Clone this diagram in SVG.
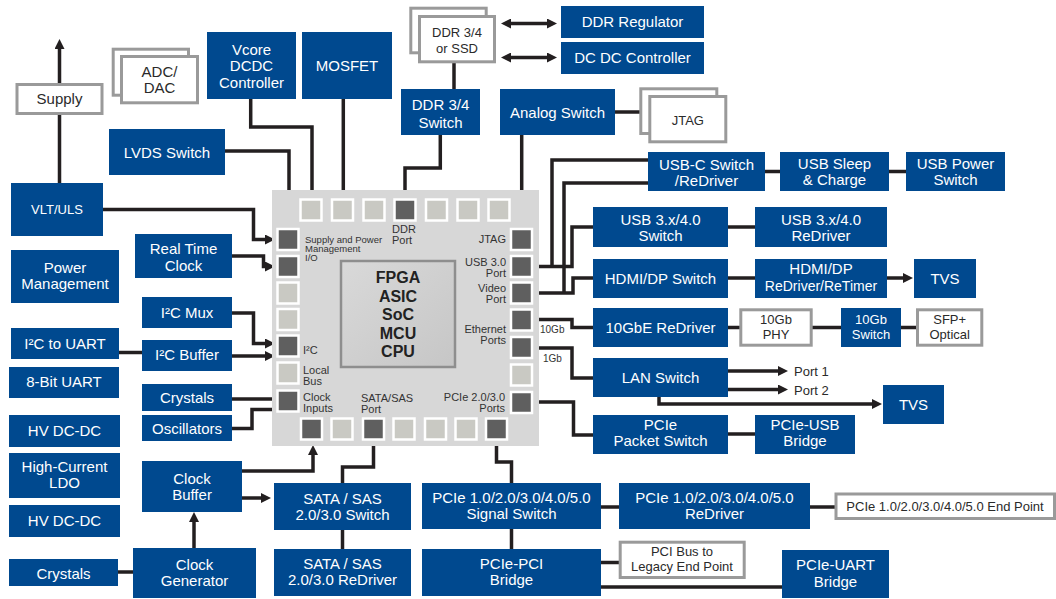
<svg xmlns="http://www.w3.org/2000/svg" width="1056" height="599" viewBox="0 0 1056 599">
<defs>
<style>
.b{fill:#00498f}
.w{fill:#fff;stroke:#9a9a9a;stroke-width:3}
.t{font-family:"Liberation Sans",Arial,sans-serif;font-size:15px;fill:#fff;text-anchor:middle}
.s{font-size:13px}
.k{fill:#2a2a2a}
.c{fill:none;stroke:#231f20;stroke-width:3.5}
.a{fill:none;stroke:#231f20;stroke-width:3.5;marker-end:url(#ah)}
.a2{fill:none;stroke:#231f20;stroke-width:3.5;marker-end:url(#ah);marker-start:url(#ah)}
.pl{fill:#c9c9c3;stroke:#fff;stroke-width:2.5}
.pd{fill:#5f5f5f;stroke:#fff;stroke-width:2.5}
.cl{font-family:"Liberation Sans",Arial,sans-serif;font-size:11px;fill:#333}
.e{text-anchor:end}
.big{font-family:"Liberation Sans",Arial,sans-serif;font-size:16px;font-weight:bold;fill:#222;text-anchor:middle}
</style>
<marker id="ah" viewBox="0 0 10 10" refX="3" refY="5" markerWidth="10" markerHeight="10" markerUnits="userSpaceOnUse" orient="auto-start-reverse">
<path d="M0,0L10,5L0,10z" fill="#231f20"/>
</marker>
<linearGradient id="cg" x1="0" y1="0" x2="1" y2="1">
<stop offset="0" stop-color="#d9d9d9"/>
<stop offset="1" stop-color="#c6c6c6"/>
</linearGradient>
</defs>

<g id="connectors">
<path class="c" d="M250.7,99V127H312V198"/>
<path class="c" d="M343.3,99V198"/>
<path class="c" d="M440.3,135V168H405V198"/>
<path class="c" d="M454,63V89"/>
<path class="c" d="M521.7,135V228"/>
<path class="c" d="M615,112H649"/>
<path class="c" d="M533,266.5H572V227H593"/>
<path class="c" d="M552,266.5V160H648"/>
<path class="c" d="M533,293H573V278H593"/>
<path class="c" d="M564,293V183H648"/>
<path class="c" d="M765,171.5H780M889,171.5H906"/>
<path class="c" d="M728,227H755"/>
<path class="c" d="M728,278H755"/>
<path class="c" d="M533,319.5H572V327.5H593"/>
<path class="c" d="M728,327.5H741M812,327.5H841M901,327.5H917"/>
<path class="c" d="M533,348H572V378H593"/>
<path class="c" d="M533,402H573.5V435H593"/>
<path class="c" d="M728,434H755"/>
<path class="c" d="M496.5,440V462H511.5V483"/>
<path class="c" d="M601,507H619M810,507H836"/>
<path class="c" d="M511.5,529V549"/>
<path class="c" d="M601,562.5H620M601,587H782"/>
<path class="c" d="M373.5,440V467H342.5V483"/>
<path class="c" d="M342.5,530V549"/>
<path class="c" d="M232,399H277"/>
<path class="c" d="M232,428.5H252V409.5H277"/>
<path class="c" d="M118,572H133"/>
<path class="c" d="M119,352.5H142"/>
<path class="a" d="M59.5,183V46"/>
<path class="a" d="M225,151H289V218"/>
<path class="a" d="M103,209.5H253.5V239.5H268"/>
<path class="a" d="M232,256H263.5V266.5H268"/>
<path class="a" d="M232,313H253.5V343.5H268"/>
<path class="a" d="M232,356H268"/>
<path class="a" d="M242,471H313V452"/>
<path class="a" d="M242,498H264"/>
<path class="a" d="M194,548V519"/>
<path class="a" d="M887,278H906"/>
<path class="a" d="M728,371H781"/>
<path class="a" d="M728,389.5H781"/>
<path class="a" d="M659,397V404H875"/>
<path class="a2" d="M508,23.5H550"/>
<path class="a2" d="M508,57.5H550"/>
</g>

<g id="chip">
<rect x="272" y="190" width="267" height="256" fill="#d7d7d7"/>
<rect x="341" y="261" width="114" height="106" fill="url(#cg)" stroke="#8e8e8e" stroke-width="2.5"/>
<text class="big" x="398" y="283">FPGA</text>
<text class="big" x="398" y="301.5">ASIC</text>
<text class="big" x="398" y="320">SoC</text>
<text class="big" x="398" y="338.5">MCU</text>
<text class="big" x="398" y="357">CPU</text>
<g>
<rect class="pl" x="300.5" y="199.5" width="21" height="21"/>
<rect class="pl" x="332" y="199.5" width="21" height="21"/>
<rect class="pl" x="363.5" y="199.5" width="21" height="21"/>
<rect class="pd" x="394.5" y="199.5" width="21" height="21"/>
<rect class="pl" x="426" y="199.5" width="21" height="21"/>
<rect class="pl" x="457.5" y="199.5" width="21" height="21"/>
<rect class="pl" x="488.5" y="199.5" width="21" height="21"/>
<rect class="pd" x="277.5" y="229" width="21" height="21"/>
<rect class="pd" x="277.5" y="256" width="21" height="21"/>
<rect class="pl" x="277.5" y="282.5" width="21" height="21"/>
<rect class="pl" x="277.5" y="309" width="21" height="21"/>
<rect class="pd" x="277.5" y="335.5" width="21" height="21"/>
<rect class="pl" x="277.5" y="362.5" width="21" height="21"/>
<rect class="pd" x="277.5" y="390.5" width="21" height="21"/>
<rect class="pd" x="511" y="229" width="21" height="21"/>
<rect class="pd" x="511" y="256" width="21" height="21"/>
<rect class="pd" x="511" y="282.5" width="21" height="21"/>
<rect class="pd" x="511" y="309.5" width="21" height="21"/>
<rect class="pd" x="511" y="337" width="21" height="21"/>
<rect class="pl" x="511" y="364.5" width="21" height="21"/>
<rect class="pd" x="511" y="392" width="21" height="21"/>
<rect class="pd" x="301" y="418.5" width="21" height="21"/>
<rect class="pl" x="331.5" y="418.5" width="21" height="21"/>
<rect class="pd" x="363" y="418.5" width="21" height="21"/>
<rect class="pl" x="393.5" y="418.5" width="21" height="21"/>
<rect class="pl" x="425" y="418.5" width="21" height="21"/>
<rect class="pl" x="455.5" y="418.5" width="21" height="21"/>
<rect class="pd" x="486" y="418.5" width="21" height="21"/>
</g>
<text class="cl" x="305" y="243" style="font-size:9.5px">Supply and Power</text>
<text class="cl" x="305" y="252" style="font-size:9.5px">Management</text>
<text class="cl" x="305" y="261" style="font-size:9.5px">I/O</text>
<text class="cl" x="392" y="233">DDR</text>
<text class="cl" x="392" y="243.5">Port</text>
<text class="cl e" x="506" y="243">JTAG</text>
<text class="cl e" x="506" y="265.5">USB 3.0</text>
<text class="cl e" x="506" y="277">Port</text>
<text class="cl e" x="506" y="292">Video</text>
<text class="cl e" x="506" y="303">Port</text>
<text class="cl e" x="506" y="333">Ethernet</text>
<text class="cl e" x="506" y="344">Ports</text>
<text class="cl" x="303" y="353.5">I²C</text>
<text class="cl" x="303" y="373.5">Local</text>
<text class="cl" x="303" y="384.5">Bus</text>
<text class="cl" x="303" y="401">Clock</text>
<text class="cl" x="303" y="412">Inputs</text>
<text class="cl" x="361" y="402">SATA/SAS</text>
<text class="cl" x="361" y="412.5">Port</text>
<text class="cl e" x="505" y="401">PCIe 2.0/3.0</text>
<text class="cl e" x="505" y="412">Ports</text>
</g>

<g id="line-labels">
<text class="cl" x="540" y="333" style="font-size:10px">10Gb</text>
<text class="cl" x="543" y="362" style="font-size:10px">1Gb</text>
<text class="t s k" x="794" y="376" style="text-anchor:start">Port 1</text>
<text class="t s k" x="794" y="394.5" style="text-anchor:start">Port 2</text>
</g>

<g id="supply"><rect class="w" x="17" y="84.5" width="85" height="29"/><text class="t k" x="59.5" y="104">Supply</text></g>
<g id="adc-dac"><rect class="w" x="113.2" y="49.2" width="75.3" height="46"/><rect class="w" x="121.5" y="56.5" width="76" height="46.3"/><text class="t k" x="159.5" y="77">ADC/</text><text class="t k" x="159.5" y="93">DAC</text></g>
<g id="vcore"><rect class="b" x="207" y="32" width="89" height="67"/><text class="t" x="251.5" y="54.5">Vcore</text><text class="t" x="251.5" y="71">DCDC</text><text class="t" x="251.5" y="87.5">Controller</text></g>
<g id="mosfet"><rect class="b" x="302" y="32" width="90" height="67"/><text class="t" x="347" y="71">MOSFET</text></g>
<g id="lvds"><rect class="b" x="109" y="129" width="116" height="46"/><text class="t" x="167" y="158">LVDS Switch</text></g>
<g id="vlt-uls"><rect class="b" x="11" y="183" width="92" height="53"/><text class="t s" x="57" y="214">VLT/ULS</text></g>
<g id="power-mgmt"><rect class="b" x="11" y="250" width="108" height="53"/><text class="t" x="65" y="273">Power</text><text class="t" x="65" y="288.5">Management</text></g>
<g id="rtc"><rect class="b" x="135" y="234" width="97" height="44"/><text class="t" x="183.5" y="253.5">Real Time</text><text class="t" x="183.5" y="271">Clock</text></g>
<g id="i2c-mux"><rect class="b" x="142" y="297" width="90" height="31"/><text class="t" x="187" y="317.5">I²C Mux</text></g>
<g id="i2c-buffer"><rect class="b" x="142" y="340" width="90" height="31"/><text class="t" x="187" y="360">I²C Buffer</text></g>
<g id="i2c-uart"><rect class="b" x="11" y="328" width="108" height="31"/><text class="t" x="65" y="348.5">I²C to UART</text></g>
<g id="uart8"><rect class="b" x="9" y="367" width="110" height="31"/><text class="t" x="64" y="387">8-Bit UART</text></g>
<g id="crystals-1"><rect class="b" x="142" y="384" width="90" height="27"/><text class="t" x="187" y="402.5">Crystals</text></g>
<g id="oscillators"><rect class="b" x="142" y="415" width="90" height="26"/><text class="t" x="187" y="433.5">Oscillators</text></g>
<g id="hv-dcdc-1"><rect class="b" x="9" y="415" width="111" height="32"/><text class="t" x="64.5" y="436">HV DC-DC</text></g>
<g id="ldo"><rect class="b" x="9" y="453" width="111" height="45"/><text class="t" x="64.5" y="472">High-Current</text><text class="t" x="64.5" y="487.5">LDO</text></g>
<g id="hv-dcdc-2"><rect class="b" x="9" y="505" width="111" height="32"/><text class="t" x="64.5" y="525.5">HV DC-DC</text></g>
<g id="clock-buffer"><rect class="b" x="142" y="461" width="100" height="51"/><text class="t" x="192" y="483.5">Clock</text><text class="t" x="192" y="499.5">Buffer</text></g>
<g id="clock-gen"><rect class="b" x="133" y="548" width="123" height="50"/><text class="t" x="194.5" y="570">Clock</text><text class="t" x="194.5" y="586">Generator</text></g>
<g id="crystals-2"><rect class="b" x="9" y="559" width="109" height="27"/><text class="t" x="63.5" y="578.5">Crystals</text></g>
<g id="sata-switch"><rect class="b" x="274" y="483" width="137" height="47"/><text class="t" x="342.5" y="503.5">SATA / SAS</text><text class="t" x="342.5" y="520">2.0/3.0 Switch</text></g>
<g id="sata-redriver"><rect class="b" x="274" y="549" width="137" height="47"/><text class="t" x="342.5" y="568.5">SATA / SAS</text><text class="t" x="342.5" y="585">2.0/3.0 ReDriver</text></g>
<g id="pcie-signal-switch"><rect class="b" x="422" y="483" width="179" height="46"/><text class="t" x="511.5" y="503">PCIe 1.0/2.0/3.0/4.0/5.0</text><text class="t" x="511.5" y="518.5">Signal Switch</text></g>
<g id="pcie-pci-bridge"><rect class="b" x="422" y="549" width="179" height="47"/><text class="t" x="511.5" y="568.5">PCIe-PCI</text><text class="t" x="511.5" y="584.5">Bridge</text></g>
<g id="pcie-redriver"><rect class="b" x="619" y="483" width="191" height="46"/><text class="t" x="714.5" y="503">PCIe 1.0/2.0/3.0/4.0/5.0</text><text class="t" x="714.5" y="518.5">ReDriver</text></g>
<g id="pcie-endpoint"><rect class="w" x="836" y="494" width="218.5" height="24.5"/><text class="t s k" x="945" y="510.5">PCIe 1.0/2.0/3.0/4.0/5.0 End Point</text></g>
<g id="pci-bus"><rect class="w" x="620.2" y="542.2" width="124" height="35.3"/><text class="t s k" x="682" y="556">PCI Bus to</text><text class="t s k" x="682" y="570.5">Legacy End Point</text></g>
<g id="pcie-uart"><rect class="b" x="782" y="550" width="107" height="48"/><text class="t" x="835.5" y="570">PCIe-UART</text><text class="t" x="835.5" y="586.5">Bridge</text></g>
<g id="pcie-packet-switch"><rect class="b" x="593" y="415" width="135" height="39"/><text class="t" x="660.5" y="430">PCIe</text><text class="t" x="660.5" y="446">Packet Switch</text></g>
<g id="pcie-usb"><rect class="b" x="755" y="415" width="100" height="39"/><text class="t" x="805" y="430">PCIe-USB</text><text class="t" x="805" y="446">Bridge</text></g>
<g id="lan-switch"><rect class="b" x="593" y="358" width="135" height="39"/><text class="t" x="660.5" y="383">LAN Switch</text></g>
<g id="tvs-2"><rect class="b" x="883" y="385" width="61" height="39"/><text class="t" x="913.5" y="410">TVS</text></g>
<g id="redriver-10gbe"><rect class="b" x="593" y="308" width="135" height="39"/><text class="t" x="660.5" y="332.5">10GbE ReDriver</text></g>
<g id="phy-10gb"><rect class="w" x="740.8" y="309.8" width="70.4" height="35.4"/><text class="t s k" x="776" y="324">10Gb</text><text class="t s k" x="776" y="338.5">PHY</text></g>
<g id="switch-10gb"><rect class="b" x="841" y="308" width="60" height="39"/><text class="t s" x="871" y="324">10Gb</text><text class="t s" x="871" y="338.5">Switch</text></g>
<g id="sfp"><rect class="w" x="917.5" y="309.8" width="64.3" height="35.4"/><text class="t s k" x="949.7" y="324">SFP+</text><text class="t s k" x="949.7" y="338.5">Optical</text></g>
<g id="hdmi-switch"><rect class="b" x="593" y="259" width="135" height="39"/><text class="t" x="660.5" y="283.5">HDMI/DP Switch</text></g>
<g id="hdmi-redriver"><rect class="b" x="755" y="259" width="132" height="39"/><text class="t" x="821" y="274">HDMI/DP</text><text class="t" x="821" y="291" style="font-size:14px">ReDriver/ReTimer</text></g>
<g id="tvs-1"><rect class="b" x="914" y="259" width="62" height="39"/><text class="t" x="945" y="283.5">TVS</text></g>
<g id="usb-switch"><rect class="b" x="593" y="207" width="135" height="40"/><text class="t" x="660.5" y="224.5">USB 3.x/4.0</text><text class="t" x="660.5" y="240.5">Switch</text></g>
<g id="usb-redriver"><rect class="b" x="755" y="207" width="132" height="40"/><text class="t" x="821" y="224.5">USB 3.x/4.0</text><text class="t" x="821" y="240.5">ReDriver</text></g>
<g id="usb-c"><rect class="b" x="648" y="152" width="117" height="39"/><text class="t" x="706.5" y="169.5">USB-C Switch</text><text class="t" x="706.5" y="185.5">/ReDriver</text></g>
<g id="usb-sleep"><rect class="b" x="780" y="152" width="109" height="39"/><text class="t" x="834.5" y="168.5">USB Sleep</text><text class="t" x="834.5" y="185">&amp; Charge</text></g>
<g id="usb-power"><rect class="b" x="906" y="152" width="99" height="39"/><text class="t" x="955.5" y="168.5">USB Power</text><text class="t" x="955.5" y="185">Switch</text></g>
<g id="analog-switch"><rect class="b" x="500" y="89" width="115" height="46"/><text class="t" x="557.5" y="117.5">Analog Switch</text></g>
<g id="jtag"><rect class="w" x="640.8" y="88.8" width="76" height="44.7"/><rect class="w" x="649.8" y="96.5" width="76" height="45.3"/><text class="t s k" x="687.8" y="125">JTAG</text></g>
<g id="ddr-switch"><rect class="b" x="401" y="89" width="79" height="46"/><text class="t" x="440.5" y="110">DDR 3/4</text><text class="t" x="440.5" y="128">Switch</text></g>
<g id="ddr-ssd"><rect class="w" x="410.8" y="8.2" width="75.4" height="44.6"/><rect class="w" x="419.5" y="16.5" width="75" height="45.3"/><text class="t s k" x="457" y="37">DDR 3/4</text><text class="t s k" x="457" y="53">or SSD</text></g>
<g id="ddr-regulator"><rect class="b" x="561" y="6" width="143" height="32"/><text class="t" x="632.5" y="27">DDR Regulator</text></g>
<g id="dcdc-controller"><rect class="b" x="561" y="42" width="143" height="32"/><text class="t" x="632.5" y="62.5">DC DC Controller</text></g>
</svg>
